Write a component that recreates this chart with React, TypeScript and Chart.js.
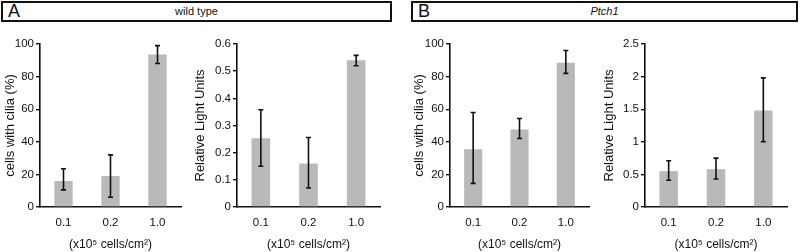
import React, { useEffect, useRef } from "react";
import { Chart, registerables } from "chart.js";

Chart.register(...registerables);

const categories = ["0.1", "0.2", "1.0"];

const wtCilia = [16, 19, 93.5];
const wtCiliaLow = [10.5, 6, 88];
const wtCiliaHigh = [23.5, 32, 99];

const wtRlu = [0.253, 0.16, 0.54];
const wtRluLow = [0.15, 0.07, 0.52];
const wtRluHigh = [0.358, 0.256, 0.558];

const ptCilia = [35.5, 47.5, 88.5];
const ptCiliaLow = [14.5, 42, 82];
const ptCiliaHigh = [58, 54.3, 96];

const ptRlu = [0.55, 0.58, 1.48];
const ptRluLow = [0.41, 0.43, 1.0];
const ptRluHigh = [0.71, 0.75, 1.98];

const xTitle = "(x10\u2075 cells/cm\u00B2)";
const FONT = "'Liberation Sans', Arial, Helvetica, sans-serif";

const errorBarPlugin = {
  id: "errorBars",
  afterDatasetsDraw(chart: any, _args: any, opts: any) {
    const { low, high } = opts;
    if (!low || !high) return;
    const meta = chart.getDatasetMeta(0);
    const y = chart.scales.y;
    const ctx = chart.ctx;
    ctx.save();
    ctx.strokeStyle = "#111";
    ctx.lineWidth = 1.6;
    meta.data.forEach((bar: any, i: number) => {
      const x = bar.x;
      const yl = y.getPixelForValue(low[i]);
      const yh = y.getPixelForValue(high[i]);
      ctx.beginPath();
      ctx.moveTo(x, yl);
      ctx.lineTo(x, yh);
      ctx.moveTo(x - 2.5, yl);
      ctx.lineTo(x + 2.5, yl);
      ctx.moveTo(x - 2.5, yh);
      ctx.lineTo(x + 2.5, yh);
      ctx.stroke();
    });
    ctx.restore();
  },
};

type PanelProps = {
  left: number;
  width: number;
  values: number[];
  low: number[];
  high: number[];
  max: number;
  step: number;
  yTitle: string;
  yWidth: number;
  padRight: number;
};

const TOP = 28;
const HEIGHT = 224;

function Panel(p: PanelProps) {
  const ref = useRef<HTMLCanvasElement | null>(null);
  useEffect(() => {
    if (!ref.current) return;
    const chart = new Chart(ref.current, {
      type: "bar",
      data: {
        labels: categories,
        datasets: [
          {
            data: p.values,
            backgroundColor: "#b9b9b9",
            borderWidth: 0,
            barPercentage: 0.39,
            categoryPercentage: 1,
          },
        ],
      },
      plugins: [errorBarPlugin],
      options: {
        responsive: false,
        animation: false,
        layout: { padding: { top: 16, right: p.padRight, left: 0, bottom: 0 } },
        plugins: {
          legend: { display: false },
          tooltip: { enabled: false },
          errorBars: { low: p.low, high: p.high },
        } as any,
        scales: {
          x: {
            type: "category",
            offset: true,
            grid: { display: false, drawTicks: false },
            border: { display: true, color: "#111", width: 1.6 },
            ticks: { color: "#111", font: { size: 11.5, family: FONT }, padding: 9 },
            title: {
              display: true,
              text: xTitle,
              color: "#111",
              font: { size: 12, family: FONT },
              padding: { top: 2, bottom: 0 },
            },
            afterFit: (s: any) => {
              s.height = 45;
            },
          },
          y: {
            min: 0,
            max: p.max,
            ticks: {
              stepSize: p.step,
              color: "#111",
              font: { size: 11.5, family: FONT },
              padding: 2,
              callback: (v: any) => String(+Number(v).toFixed(2)),
            },
            grid: {
              display: true,
              drawOnChartArea: false,
              drawTicks: true,
              tickLength: 4,
              color: "#111",
              lineWidth: 1.4,
            },
            border: { display: true, color: "#111", width: 1.6 },
            title: {
              display: true,
              text: p.yTitle,
              color: "#111",
              font: { size: 13, family: FONT },
              padding: { top: 3, bottom: 0 },
            },
            afterFit: (s: any) => {
              s.width = p.yWidth;
            },
          },
        },
      } as any,
    });
    return () => chart.destroy();
  }, []);
  return (
    <canvas
      ref={ref}
      width={p.width}
      height={HEIGHT}
      style={{ position: "absolute", left: p.left, top: TOP, width: p.width, height: HEIGHT }}
    />
  );
}

function Header(props: { left: number; width: number; letter: string; title: string; italic?: boolean }) {
  return (
    <div
      style={{
        position: "absolute",
        left: props.left,
        top: 1,
        width: props.width,
        height: 21,
        boxSizing: "border-box",
        border: "2px solid #111",
        fontFamily: FONT,
        color: "#111",
      }}
    >
      <span style={{ position: "absolute", left: 5, top: -2, fontSize: 18, lineHeight: "21px" }}>
        {props.letter}
      </span>
      <span
        style={{
          position: "absolute",
          left: 0,
          right: 0,
          top: 0,
          textAlign: "center",
          fontSize: 11,
          lineHeight: "17px",
          fontStyle: props.italic ? "italic" : "normal",
        }}
      >
        {props.title}
      </span>
    </div>
  );
}

export default function App() {
  return (
    <div
      style={{
        position: "absolute",
        left: 0,
        top: 0,
        width: 800,
        height: 252,
        background: "#fff",
        overflow: "hidden",
      }}
    >
      <Header left={1} width={391} letter="A" title="wild type" />
      <Header left={411} width={387} letter="B" title="Ptch1" italic />
      <Panel left={0} width={190} values={wtCilia} low={wtCiliaLow} high={wtCiliaHigh} max={100} step={20} yTitle="cells with cilia (%)" yWidth={40} padRight={9} />
      <Panel left={190} width={205} values={wtRlu} low={wtRluLow} high={wtRluHigh} max={0.6} step={0.1} yTitle="Relative Light Units" yWidth={47} padRight={15} />
      <Panel left={409} width={190} values={ptCilia} low={ptCiliaLow} high={ptCiliaHigh} max={100} step={20} yTitle="cells with cilia (%)" yWidth={41} padRight={10} />
      <Panel left={599} width={201} values={ptRlu} low={ptRluLow} high={ptRluHigh} max={2.5} step={0.5} yTitle="Relative Light Units" yWidth={46} padRight={13} />
    </div>
  );
}
